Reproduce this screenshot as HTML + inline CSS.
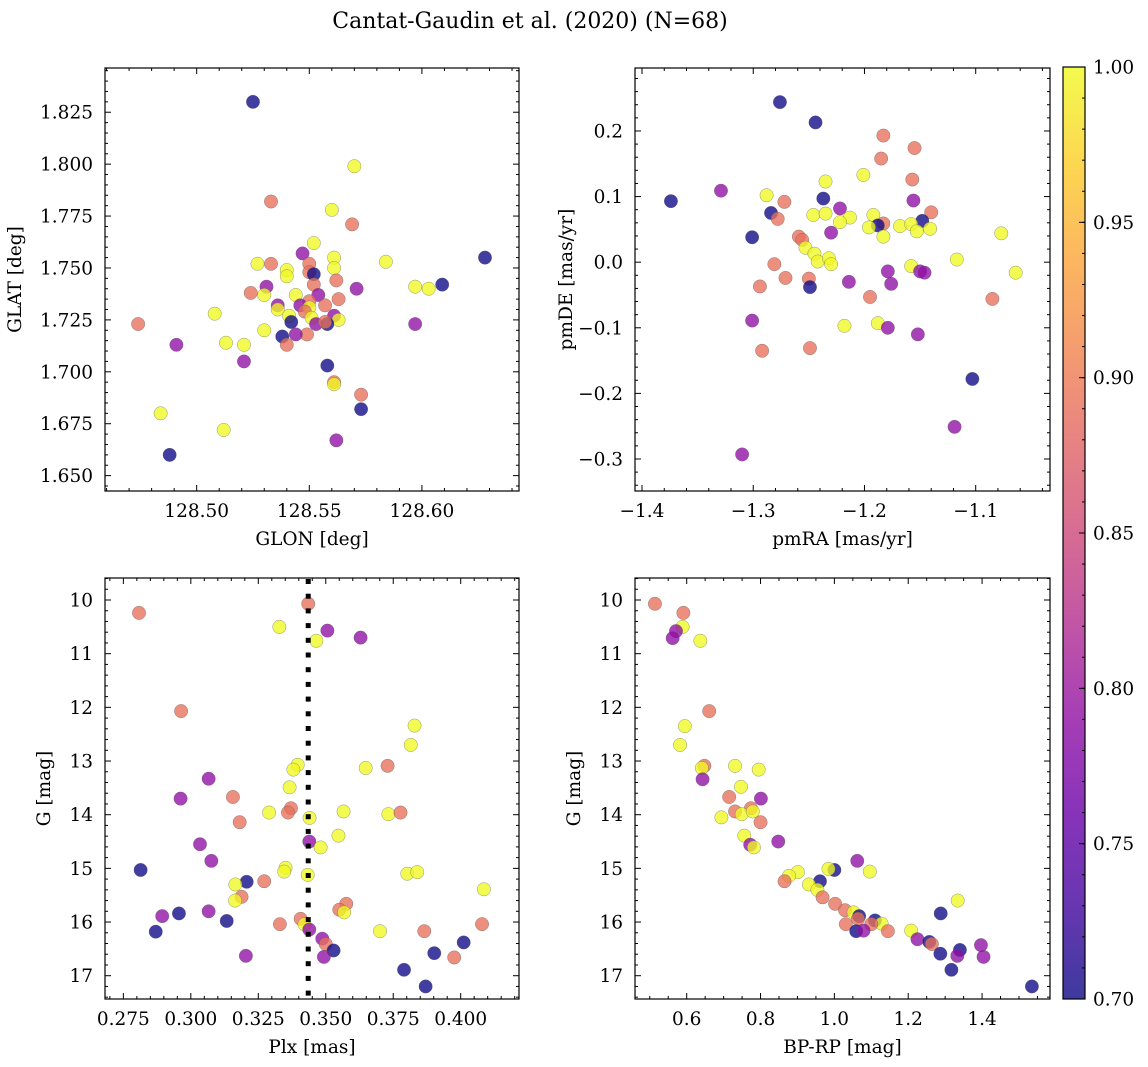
<!DOCTYPE html>
<html><head><meta charset="utf-8"><style>
html,body{margin:0;padding:0;background:#fff}
svg{display:block;font-family:"DejaVu Serif","Liberation Serif",serif}
</style></head><body>
<svg id="fig" width="1148" height="1067" viewBox="0 0 1148 1067">
<text x="530" y="28" text-anchor="middle" font-size="22">Cantat-Gaudin et al. (2020) (N=68)</text>
</svg>
<script>
// Panel 1: GLON vs GLAT
const p1x=[128.525,128.570,128.533,128.560,128.569,128.552,128.547,128.561,128.584,128.527,128.533,128.628,128.550,128.561,128.540,128.550,128.552,128.540,128.552,128.562,128.531,128.524,128.530,128.571,128.597,128.603,128.609,128.544,128.554,128.563,128.550,128.557,128.536,128.546,128.536,128.550,128.508,128.548,128.561,128.541,128.551,128.563,128.542,128.474,128.553,128.558,128.557,128.530,128.597,128.549,128.544,128.538,128.491,128.513,128.521,128.540,128.521,128.558,128.561,128.561,128.573,128.573,128.484,128.512,128.562,128.488];
const p1y=[1.830,1.799,1.782,1.778,1.771,1.762,1.757,1.755,1.753,1.752,1.752,1.755,1.752,1.750,1.749,1.748,1.747,1.746,1.742,1.744,1.741,1.738,1.737,1.740,1.741,1.740,1.742,1.737,1.737,1.735,1.734,1.732,1.732,1.732,1.730,1.731,1.728,1.729,1.727,1.727,1.726,1.725,1.724,1.723,1.723,1.723,1.724,1.720,1.723,1.718,1.718,1.717,1.713,1.714,1.713,1.713,1.705,1.703,1.695,1.694,1.689,1.682,1.680,1.672,1.667,1.660];
const p1c=[0.70,1.0,0.89,1.0,0.89,1.0,0.79,1.0,1.0,1.0,0.89,0.70,0.89,1.0,1.0,0.89,0.70,1.0,0.89,0.89,0.79,0.89,1.0,0.79,1.0,1.0,0.70,1.0,0.79,0.89,0.89,0.89,0.79,0.79,1.0,1.0,1.0,0.89,0.79,1.0,1.0,1.0,0.70,0.89,0.79,0.70,0.89,1.0,0.79,0.89,0.79,0.70,0.79,1.0,1.0,0.89,0.79,0.70,0.89,1.0,0.89,0.70,1.0,1.0,0.79,0.70];
// Panel 2: pmRA vs pmDE
const p2x=[-1.276,-1.244,-1.183,-1.155,-1.185,-1.201,-1.157,-1.235,-1.329,-1.374,-1.288,-1.237,-1.272,-1.156,-1.284,-1.222,-1.278,-1.246,-1.235,-1.213,-1.192,-1.140,-1.222,-1.183,-1.188,-1.196,-1.168,-1.148,-1.158,-1.153,-1.141,-1.077,-1.183,-1.230,-1.301,-1.259,-1.256,-1.253,-1.245,-1.242,-1.232,-1.230,-1.117,-1.281,-1.158,-1.150,-1.146,-1.064,-1.179,-1.271,-1.250,-1.214,-1.176,-1.294,-1.249,-1.195,-1.085,-1.301,-1.218,-1.188,-1.179,-1.152,-1.249,-1.292,-1.103,-1.119,-1.310];
const p2y=[0.244,0.213,0.193,0.174,0.158,0.133,0.126,0.123,0.109,0.093,0.102,0.097,0.092,0.094,0.075,0.082,0.066,0.072,0.074,0.068,0.072,0.076,0.061,0.059,0.056,0.053,0.055,0.063,0.058,0.047,0.051,0.044,0.039,0.045,0.038,0.039,0.034,0.022,0.013,0.001,0.006,-0.003,0.004,-0.003,-0.006,-0.014,-0.016,-0.016,-0.014,-0.024,-0.025,-0.030,-0.033,-0.037,-0.038,-0.053,-0.056,-0.089,-0.097,-0.093,-0.100,-0.110,-0.131,-0.135,-0.178,-0.251,-0.293];
const p2c=[0.70,0.70,0.89,0.89,0.89,1.0,0.89,1.0,0.79,0.70,1.0,0.70,0.89,0.79,0.70,0.79,0.89,1.0,1.0,1.0,1.0,0.89,1.0,0.89,0.70,1.0,1.0,0.70,1.0,1.0,1.0,1.0,1.0,0.79,0.70,0.89,0.89,1.0,1.0,1.0,1.0,1.0,1.0,0.89,1.0,0.79,0.79,1.0,0.79,0.89,0.89,0.79,0.79,0.89,0.70,0.89,0.89,0.79,1.0,1.0,0.79,0.79,0.89,0.89,0.70,0.79,0.79];
// Panel 3: Plx vs G
const p3x=[0.2808,0.3435,0.3328,0.3506,0.3465,0.3629,0.2964,0.3829,0.3815,0.3396,0.3380,0.3648,0.3729,0.3066,0.3366,0.2962,0.3156,0.3371,0.3360,0.3290,0.3566,0.3732,0.3777,0.3440,0.3181,0.3547,0.3439,0.3034,0.3481,0.3076,0.2814,0.3351,0.3346,0.3433,0.3802,0.3839,0.3207,0.3272,0.3165,0.4086,0.3188,0.3164,0.3576,0.3550,0.3568,0.2956,0.3066,0.2894,0.3133,0.3407,0.3421,0.3330,0.4079,0.2870,0.3439,0.3701,0.3865,0.3487,0.3500,0.3529,0.3493,0.3204,0.4011,0.3902,0.3976,0.3790,0.3870];
const p3y=[10.24,10.07,10.50,10.57,10.76,10.70,12.07,12.34,12.70,13.07,13.16,13.13,13.09,13.33,13.49,13.70,13.67,13.88,13.96,13.96,13.94,13.99,13.96,14.06,14.14,14.39,14.50,14.55,14.61,14.86,15.03,14.99,15.06,15.12,15.10,15.07,15.25,15.24,15.30,15.39,15.53,15.60,15.66,15.77,15.82,15.84,15.80,15.89,15.98,15.94,16.04,16.04,16.04,16.18,16.14,16.17,16.17,16.31,16.41,16.53,16.65,16.63,16.38,16.58,16.66,16.89,17.20];
const p3c=[0.89,0.89,1.0,0.79,1.0,0.79,0.89,1.0,1.0,1.0,1.0,1.0,0.89,0.79,1.0,0.79,0.89,0.89,0.89,1.0,1.0,1.0,0.89,1.0,0.89,1.0,0.79,0.79,1.0,0.79,0.70,1.0,1.0,1.0,1.0,1.0,0.70,0.89,1.0,1.0,0.89,1.0,0.89,0.89,1.0,0.70,0.79,0.79,0.70,0.89,1.0,0.89,0.89,0.70,0.79,1.0,0.89,0.79,0.89,0.70,0.79,0.79,0.70,0.70,0.89,0.70,0.70];
const plxRef=0.3435;
// Panel 4: BP-RP vs G
const p4x=[0.514,0.591,0.589,0.571,0.562,0.637,0.661,0.595,0.582,0.648,0.641,0.643,0.731,0.795,0.747,0.715,0.801,0.731,0.774,0.749,0.779,0.694,0.800,0.756,0.848,0.772,0.782,1.062,1.000,0.984,1.096,0.901,0.877,0.865,0.961,0.931,0.954,0.968,1.334,1.002,1.029,1.288,1.052,1.067,1.064,1.110,1.128,1.100,1.031,1.059,1.079,1.145,1.208,1.225,1.257,1.264,1.287,1.340,1.333,1.397,1.404,1.317,1.535];
const p4y=[10.07,10.24,10.50,10.58,10.71,10.76,12.07,12.35,12.70,13.09,13.13,13.34,13.09,13.16,13.48,13.67,13.70,13.94,13.88,13.99,13.94,14.05,14.14,14.39,14.50,14.56,14.61,14.86,15.03,15.01,15.06,15.07,15.14,15.24,15.24,15.30,15.40,15.54,15.60,15.66,15.78,15.84,15.82,15.89,15.94,15.97,16.03,16.04,16.04,16.17,16.16,16.17,16.16,16.32,16.37,16.41,16.59,16.52,16.63,16.43,16.65,16.89,17.20];
const p4c=[0.89,0.89,1.0,0.79,0.79,1.0,0.89,1.0,1.0,0.89,1.0,0.79,1.0,1.0,1.0,0.89,0.79,0.89,0.89,1.0,1.0,1.0,0.89,1.0,0.79,0.79,1.0,0.79,0.70,1.0,1.0,1.0,1.0,0.89,0.70,1.0,1.0,0.89,1.0,0.89,0.89,0.70,1.0,0.70,0.89,0.70,1.0,0.89,0.89,0.70,0.79,0.89,1.0,0.79,0.70,0.89,0.70,0.70,0.79,0.79,0.79,0.70,0.70];
const cbTicks=[0.70,0.75,0.80,0.85,0.90,0.95,1.00];

const NS='http://www.w3.org/2000/svg';
const svg=document.getElementById('fig');
function mk(tag,attrs,parent){const e=document.createElementNS(NS,tag);for(const k in attrs)e.setAttribute(k,attrs[k]);(parent||svg).appendChild(e);return e;}
const stops=['#0d0887','#41049d','#6a00a8','#8f0da4','#b12a90','#cc4778','#e16462','#f2844b','#fca636','#fcce25','#f0f921'];
function hx(h){return [1,3,5].map(i=>parseInt(h.substr(i,2),16));}
function plasma(t){t=Math.max(0,Math.min(1,t));const f=t*10,i=Math.min(9,Math.floor(f)),u=f-i;const a=hx(stops[i]),b=hx(stops[i+1]);return 'rgb('+a.map((v,k)=>Math.round(v+(b[k]-v)*u)).join(',')+')';}
function cmap(v){return plasma((v-0.7)/0.3);}
const FS=18.5;

function panel(cfg,xs,ys,cs){
  const g=mk('g',{});
  
  
  const {L,R,T,B,x0,x1,y0,y1}=cfg;
  const sx=v=>L+(v-x0)/(x1-x0)*(R-L);
  const sy=v=>cfg.invert? T+(v-y0)/(y1-y0)*(B-T) : B-(v-y0)/(y1-y0)*(B-T);
  const pts=mk('g',{},g);
  for(let i=0;i<xs.length;i++){
    const c=mk('circle',{cx:sx(xs[i]),cy:sy(ys[i]),r:6.7,fill:cmap(cs[i]),'fill-opacity':0.78,stroke:'#555','stroke-opacity':0.6,'stroke-width':0.5},pts);
    
    
  }
  if(cfg.vline!==undefined){
    const vg=mk('g',{},g);
    
    
    const vx=sx(cfg.vline);
    for(let yy=T+1; yy<B-1; yy+=14.7){
      mk('rect',{x:vx-2.5,y:yy,width:5,height:Math.min(5,B-yy),fill:'#000'},vg);
    }
  }
  mk('rect',{x:L,y:T,width:R-L,height:B-T,fill:'none',stroke:'#000','stroke-width':1.2},g);
  const eps=1e-9;
  for(let v=Math.ceil((x0)/cfg.xmin-eps)*cfg.xmin; v<=x1+eps; v+=cfg.xmin){
    const isMaj=Math.abs(v/cfg.xmaj-Math.round(v/cfg.xmaj))<1e-6;
    const len=isMaj?6:3,px=sx(v);
    mk('line',{x1:px,x2:px,y1:B,y2:B-len,stroke:'#000','stroke-width':1},g);
    mk('line',{x1:px,x2:px,y1:T,y2:T+len,stroke:'#000','stroke-width':1},g);
    if(isMaj){const t=mk('text',{x:px,y:B+26,'text-anchor':'middle','font-size':FS},g);t.textContent=(Math.round(v/cfg.xmaj)*cfg.xmaj).toFixed(cfg.xdec).replace('-','\u2212');
      }
  }
  for(let v=Math.ceil(Math.min(y0,y1)/cfg.ymin-eps)*cfg.ymin; v<=Math.max(y0,y1)+eps; v+=cfg.ymin){
    const isMaj=Math.abs(v/cfg.ymaj-Math.round(v/cfg.ymaj))<1e-6;
    const len=isMaj?6:3,py=sy(v);
    mk('line',{x1:L,x2:L+len,y1:py,y2:py,stroke:'#000','stroke-width':1},g);
    mk('line',{x1:R,x2:R-len,y1:py,y2:py,stroke:'#000','stroke-width':1},g);
    if(isMaj){const t=mk('text',{x:L-12,y:py+6.5,'text-anchor':'end','font-size':FS},g);t.textContent=(Math.round(v/cfg.ymaj)*cfg.ymaj).toFixed(cfg.ydec).replace('-','\u2212');
      }
  }
  const xl=mk('text',{x:(L+R)/2,y:B+54,'text-anchor':'middle','font-size':FS},g);xl.textContent=cfg.xlabel;
  
  const yl=mk('text',{x:0,y:0,'text-anchor':'middle','font-size':FS,transform:'translate('+cfg.ylx+','+(T+B)/2+') rotate(-90)'},g);yl.textContent=cfg.ylabel;
  
}
panel({name:'glon-glat-panel',L:105,R:519,T:68,B:491,x0:128.4593,x1:128.6431,y0:1.6426,y1:1.8463,xmaj:0.05,xmin:0.01,ymaj:0.025,ymin:0.005,xdec:2,ydec:3,xlabel:'GLON [deg]',ylabel:'GLAT [deg]',ylx:21},p1x,p1y,p1c);
panel({name:'pm-panel',L:635,R:1050,T:68,B:491,x0:-1.4063,x1:-1.0332,y0:-0.3488,y1:0.296,xmaj:0.1,xmin:0.02,ymaj:0.1,ymin:0.02,xdec:1,ydec:1,xlabel:'pmRA [mas/yr]',ylabel:'pmDE [mas/yr]',ylx:572},p2x,p2y,p2c);
panel({name:'plx-g-panel',L:105,R:519,T:578,B:999,x0:0.2682,x1:0.4216,y0:9.59,y1:17.434,invert:true,xmaj:0.025,xmin:0.005,ymaj:1,ymin:0.2,xdec:3,ydec:0,xlabel:'Plx [mas]',ylabel:'G [mag]',ylx:50,vline:plxRef},p3x,p3y,p3c);
panel({name:'cmd-panel',L:635,R:1050,T:578,B:999,x0:0.46,x1:1.584,y0:9.59,y1:17.434,invert:true,xmaj:0.2,xmin:0.05,ymaj:1,ymin:0.2,xdec:1,ydec:0,xlabel:'BP-RP [mag]',ylabel:'G [mag]',ylx:580},p4x,p4y,p4c);

// colorbar
const cb=mk('g',{});


const defs=mk('defs',{},cb);
const lg=mk('linearGradient',{id:'cbgrad',x1:0,y1:1,x2:0,y2:0},defs);
for(let i=0;i<=20;i++){mk('stop',{offset:i/20,'stop-color':plasma(i/20),'stop-opacity':0.8},lg);}
const cT=67,cB=999,cL=1063,cR=1085;
mk('rect',{x:cL,y:cT,width:cR-cL,height:cB-cT,fill:'url(#cbgrad)',stroke:'#000','stroke-width':1.2},cb);
const cy=v=>cB-(v-0.7)/0.3*(cB-cT);
for(let v=0.70;v<=1.0001;v+=0.01){mk('line',{x1:cR,x2:cR-3,y1:cy(v),y2:cy(v),stroke:'#000','stroke-width':1},cb);}
cbTicks.forEach(v=>{
  mk('line',{x1:cR,x2:cR-6,y1:cy(v),y2:cy(v),stroke:'#000','stroke-width':1},cb);
  const t=mk('text',{x:cR+8,y:cy(v)+6.5,'font-size':FS},cb);t.textContent=v.toFixed(2);
  
  
});
</script>
</body></html>
